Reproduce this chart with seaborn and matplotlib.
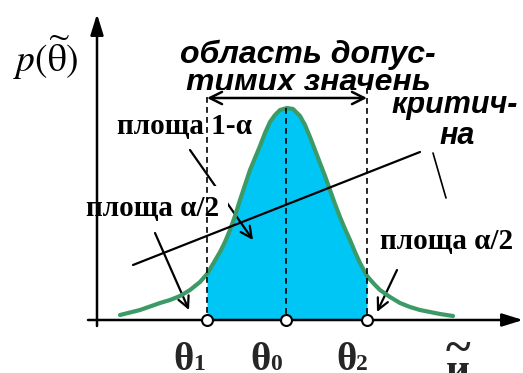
import numpy as np
import matplotlib
matplotlib.use("Agg")
import matplotlib.pyplot as plt
from matplotlib.patches import Rectangle
import seaborn as sns

# Density curve sampled along the horizontal axis (canvas units, y grows downward)
curve_x = [120, 140, 160, 170, 180, 190, 200, 207, 213, 220, 225, 230, 235, 240,
           245, 250, 255, 260, 265, 270, 275, 280, 287, 293, 300, 305, 310, 315,
           320, 325, 330, 335, 340, 345, 350, 355, 360, 367, 375, 380, 390, 400,
           410, 420, 440, 453]
curve_y = [315, 310, 303, 300, 296, 290, 282, 274, 264, 252, 242, 230, 216, 200,
           185, 170, 158, 146, 133, 122, 115, 110, 108, 109, 116, 125, 137, 150,
           163, 176, 190, 204, 217, 229, 240, 252, 263, 276, 285, 290, 297, 303,
           307, 310, 314, 316]

# Critical points θ1, θ0, θ2 on the axis
theta_pos = [207, 286, 367]
theta_names = ["1", "0", "2"]
axis_level = 320

GREEN = "#3b9a66"
BLUE = "#00c6f6"

sns.set_theme(style="white")
plt.rcParams["font.family"] = ["Liberation Sans", "DejaVu Sans"]

fig = plt.figure(figsize=(5.23, 3.73), dpi=100)
ax = fig.add_axes([0, 0, 1, 1])
ax.set_xlim(0, 523)
ax.set_ylim(373, 0)
ax.axis("off")

cx = np.array(curve_x)
cy = np.array(curve_y)

# acceptance region under the curve
mask = (cx >= theta_pos[0]) & (cx <= theta_pos[2])
ax.fill_between(cx, cy, axis_level, where=mask, color=BLUE, lw=0, zorder=1)

# density curve
sns.lineplot(x=cx, y=cy, sort=False, estimator=None, color=GREEN, lw=3.0,
             ax=ax, zorder=3)

# coordinate axes
ax.annotate("", xy=(523, axis_level), xytext=(88, axis_level),
            arrowprops=dict(arrowstyle="-|>,head_length=0.9,head_width=0.28",
                            lw=1.8, color="black", shrinkA=0, shrinkB=0,
                            mutation_scale=14), zorder=5)
ax.annotate("", xy=(97, 14), xytext=(97, 326),
            arrowprops=dict(arrowstyle="-|>,head_length=0.9,head_width=0.28",
                            lw=1.8, color="black", shrinkA=0, shrinkB=0,
                            mutation_scale=14), zorder=5)

# dashed verticals
dash = dict(ls=(0, (3.5, 2.5)), color="black", lw=1.2, zorder=4)
ax.plot([theta_pos[0]] * 2, [97, axis_level], **dash)
ax.plot([theta_pos[1]] * 2, [108, axis_level], **dash)
ax.plot([theta_pos[2]] * 2, [88, axis_level], **dash)

# range arrow over the acceptance region
ax.annotate("", xy=(theta_pos[2], 98), xytext=(theta_pos[0], 98),
            arrowprops=dict(arrowstyle="<->", lw=1.8, color="black",
                            shrinkA=0, shrinkB=0, mutation_scale=22), zorder=4)

# title of the region
tfont = dict(fontsize=23, fontweight="bold", fontstyle="italic", ha="center",
             va="baseline", color="black", zorder=2)
ax.text(308, 63, "область допус-", **tfont)
ax.text(308, 91, "тимих значень", **tfont)
ax.add_patch(Rectangle((175, 89.5), 270, 7, color="white", lw=0, zorder=2.5))

# critical region label
cfont = dict(fontsize=22, fontweight="bold", fontstyle="italic", ha="center",
             va="baseline", color="black", zorder=2)
ax.text(455, 113, "критич-", **cfont)
ax.text(457, 144, "на", **cfont)

# pointer lines
ax.plot([133, 420], [265, 152], color="black", lw=1.6, zorder=3.5)
ax.plot([433, 446], [153, 198], color="black", lw=1.2, zorder=3.5)

arrow_kw = dict(arrowstyle="->", lw=1.6, color="black", shrinkA=0, shrinkB=0,
                mutation_scale=20)
ax.annotate("", xy=(253, 240), xytext=(190, 150), arrowprops=arrow_kw, zorder=1.5)
ax.annotate("", xy=(189, 310), xytext=(155, 233), arrowprops=arrow_kw, zorder=1.5)
ax.annotate("", xy=(377, 312), xytext=(397, 270), arrowprops=arrow_kw, zorder=1.5)

# area labels
sfont = dict(family=["Liberation Serif", "DejaVu Serif"], fontsize=21,
             fontweight="bold", va="baseline", color="black", zorder=2)
box = dict(boxstyle="square,pad=0.3", fc="white", ec="none")
ax.text(117, 134, "площа 1-α", bbox=box, **sfont)
ax.text(86, 216, "площа α/2", bbox=box, **sfont)
ax.text(380, 249, "площа α/2", bbox=box, **sfont)

# density label
ax.text(13, 72, r"$p(\widetilde{\mathrm{\theta}})$", fontsize=27,
        math_fontfamily="stix", va="baseline", ha="left", color="black")

# axis point labels
label_x = [184, 261, 347]
for lx, name in zip(label_x, theta_names):
    ax.text(lx, 370, "θ", family=["Liberation Serif"], fontsize=28,
            fontweight="bold", ha="center", va="baseline")
    ax.text(lx + 9, 370, name, family=["Liberation Serif"], fontsize=17,
            fontweight="bold", ha="left", va="baseline")

ax.text(458, 382, "и", family=["Liberation Serif"], fontsize=30,
        fontweight="bold", ha="center", va="baseline")
ax.text(458, 362, "~", family=["Liberation Serif"], fontsize=34,
        fontweight="bold", ha="center", va="baseline")

# markers at θ1, θ0, θ2
sns.scatterplot(x=theta_pos, y=[axis_level] * 3, s=62, color="white",
                edgecolor="black", linewidth=1.5, ax=ax, zorder=6)

fig.savefig("out.png", dpi=100)
